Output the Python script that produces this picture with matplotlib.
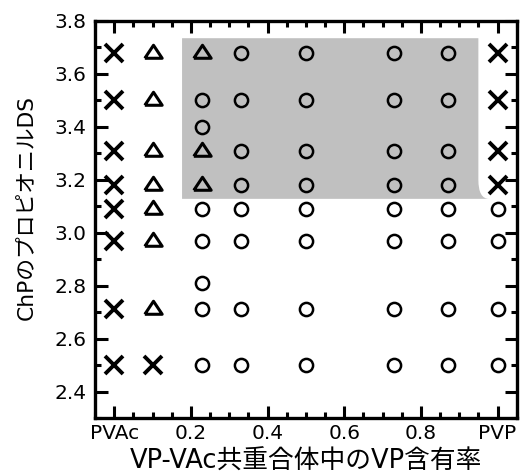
import numpy as np
import matplotlib
matplotlib.use('Agg')
import matplotlib.pyplot as plt
from matplotlib.path import Path
from matplotlib.patches import PathPatch
from matplotlib.ticker import MultipleLocator, FixedLocator

plt.rcParams['font.family'] = ['DejaVu Sans', 'Noto Sans CJK JP']

# VP fraction of each column (0 = PVAc, 1 = PVP)
vp = [0.0, 0.1, 0.23, 0.33, 0.5, 0.73, 0.87, 1.0]

# propionyl DS rows and the result at each column ('x', 't' triangle, 'o' circle, '' none)
ds_rows = [3.68, 3.50, 3.40, 3.31, 3.18, 3.09, 2.97, 2.81, 2.71, 2.50]
results = [
    ['x', 't', 't', 'o', 'o', 'o', 'o', 'x'],
    ['x', 't', 'o', 'o', 'o', 'o', 'o', 'x'],
    ['', '', 'o', '', '', '', '', ''],
    ['x', 't', 't', 'o', 'o', 'o', 'o', 'x'],
    ['x', 't', 't', 'o', 'o', 'o', 'o', 'x'],
    ['x', 't', 'o', 'o', 'o', 'o', 'o', 'o'],
    ['x', 't', 'o', 'o', 'o', 'o', 'o', 'o'],
    ['', '', 'o', '', '', '', '', ''],
    ['x', 't', 'o', 'o', 'o', 'o', 'o', 'o'],
    ['x', 'x', 'o', 'o', 'o', 'o', 'o', 'o'],
]

# shaded region (VP range, DS range)
shade_vp = (0.177, 0.95, 0.978)
shade_ds = (3.128, 3.20, 3.735)

xtick_vals = [0, 0.2, 0.4, 0.6, 0.8, 1.0]
xtick_labels = ['PVAc', '0.2', '0.4', '0.6', '0.8', 'PVP']
ytick_vals = [2.4, 2.6, 2.8, 3.0, 3.2, 3.4, 3.6, 3.8]

fig = plt.figure(figsize=(5.28, 4.75), dpi=100)
ax = fig.add_axes([0.18, 0.12, 0.7986, 0.8358])

x0, x1, x2 = shade_vp
yb, yc, yt = shade_ds
verts = [(x0, yt), (x1, yt), (x1, yc), (x1, yb), (x2, yb), (x0, yb), (x0, yt)]
codes = [Path.MOVETO, Path.LINETO, Path.LINETO, Path.CURVE3, Path.CURVE3,
         Path.LINETO, Path.CLOSEPOLY]
ax.add_patch(PathPatch(Path(verts, codes), facecolor='#c0c0c0', edgecolor='none', zorder=0))

tri = [(-1, -0.55), (1, -0.55), (0, 0.95), (-1, -0.55)]
for ds, row in zip(ds_rows, results):
    for v, r in zip(vp, row):
        if r == 'x':
            ax.plot(v, ds, marker='x', ms=12.5, mew=2.8, color='black', ls='none')
        elif r == 't':
            ax.plot(v, ds, marker=tri, ms=12.5, mew=2.2, mfc='none', mec='black', ls='none')
        elif r == 'o':
            ax.plot(v, ds, marker='o', ms=9.5, mew=1.8, mfc='none', mec='black', ls='none')

ax.set_xlim(-0.05, 1.05)
ax.set_ylim(2.3, 3.8)
ax.xaxis.set_major_locator(FixedLocator(xtick_vals))
ax.set_xticklabels(xtick_labels)
ax.xaxis.set_minor_locator(MultipleLocator(0.05))
ax.yaxis.set_major_locator(FixedLocator(ytick_vals))
ax.yaxis.set_minor_locator(MultipleLocator(0.1))

for s in ax.spines.values():
    s.set_linewidth(2.4)
ax.tick_params(which='both', direction='in', top=True, right=True, width=2.2,
               labelsize=14.5, colors='black')
ax.tick_params(which='major', length=8.5, pad=4)
ax.tick_params(which='minor', length=4)
ax.tick_params(axis='y', which='major', length=9, pad=6)

ax.set_xlabel('VP-VAc共重合体中のVP含有率', fontsize=18.5, va='center')
ax.xaxis.set_label_coords(0.5, -0.11)
ax.set_ylabel('ChPのプロピオニルDS', fontsize=15.7, va='center')
ax.yaxis.set_label_coords(-0.163, 0.53)

fig.savefig('out.png', dpi=100)
